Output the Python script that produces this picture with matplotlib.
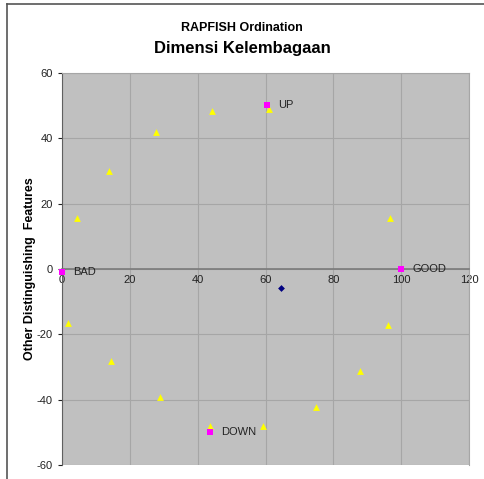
import matplotlib
matplotlib.use("Agg")
import matplotlib.pyplot as plt
from matplotlib.lines import Line2D

plt.rcParams["font.family"] = ["Liberation Sans", "DejaVu Sans"]
plt.rcParams["axes.unicode_minus"] = False

# ordination scores of the attributes (yellow triangles)
attr_x = [4.3, 14.0, 27.7, 44.3, 60.9, 96.8, 1.9, 14.4, 28.9, 43.5, 59.2, 74.8, 87.9, 96.0]
attr_y = [15.5, 30.1, 41.9, 48.3, 49.1, 15.5, -16.4, -28.3, -39.2, -48.2, -48.0, -42.1, -31.2, -17.1]

# reference anchors (magenta squares)
anchor_names = ["BAD", "GOOD", "UP", "DOWN"]
anchor_x = [0.0, 100.0, 60.4, 43.5]
anchor_y = [-1.0, 0.0, 50.2, -50.0]

# status of the dimension (blue diamond)
status_x = [64.6]
status_y = [-5.9]

x_ticks = [0, 20, 40, 60, 80, 100, 120]
y_ticks = [-60, -40, -20, 0, 20, 40, 60]

fig = plt.figure(figsize=(4.84, 4.79), dpi=100)
ax = fig.add_axes([62 / 484, 1 - 465 / 479, (469 - 62) / 484, (465 - 73) / 479])
ax.set_facecolor("#c0c0c0")

ax.set_xlim(0, 120)
ax.set_ylim(-60, 60)
ax.set_xticks(x_ticks)
ax.set_yticks(y_ticks)
ax.grid(True, color="#a6a6a6", linewidth=0.8)
ax.set_axisbelow(True)

ax.spines["bottom"].set_position(("data", 0))
ax.spines["bottom"].set_color("#7a7a7a")
ax.spines["bottom"].set_linewidth(1.2)
ax.spines["left"].set_color("#606060")
ax.spines["top"].set_color("#a6a6a6")
ax.spines["right"].set_color("#a6a6a6")
ax.tick_params(axis="x", length=0, pad=4, labelsize=8, colors="#222222")
ax.tick_params(axis="y", length=3, direction="out", labelsize=8, colors="#222222")

ax.scatter(attr_x, attr_y, marker="^", s=24, color="#ffff00", zorder=3, linewidths=0)
ax.scatter(anchor_x, anchor_y, marker="s", s=22, color="#ff00ff", zorder=4, linewidths=0,
           clip_on=False)
ax.scatter(status_x, status_y, marker="D", s=12, color="#000080", zorder=4, linewidths=0)

for name, x, y in zip(anchor_names, anchor_x, anchor_y):
    ax.annotate(name, (x, y), xytext=(8, 0), textcoords="offset points",
                va="center", ha="left", fontsize=8, color="#222222")

ax.set_ylabel("Other Distinguishing  Features", fontsize=9, fontweight="bold")
ax.yaxis.set_label_coords(-0.064, 0.5)

fig.text(0.5, 1 - 28 / 479, "RAPFISH Ordination", ha="center", va="center",
         fontsize=9, fontweight="bold")
fig.text(0.5, 1 - 48 / 479, "Dimensi Kelembagaan", ha="center", va="center",
         fontsize=12, fontweight="bold")

# outer chart frame (top and left edges visible)
fig.add_artist(Line2D([7 / 484, 1], [1 - 4 / 479] * 2, color="#555555", linewidth=1.2))
fig.add_artist(Line2D([7 / 484] * 2, [0, 1 - 4 / 479], color="#555555", linewidth=1.2))

fig.savefig("out.png", dpi=100)
